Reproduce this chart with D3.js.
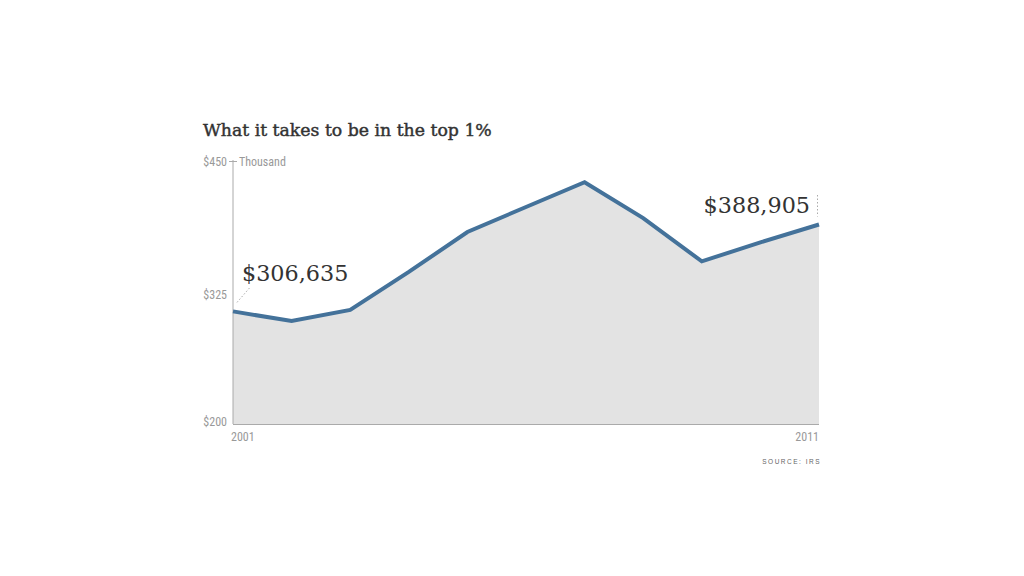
<!DOCTYPE html>
<html><head><meta charset="utf-8">
<script src="https://cdn.jsdelivr.net/npm/d3@7"></script>
<style>
body{margin:0;background:#fff;}
svg{display:block;}
.ax{font-family:"Liberation Sans Narrow","Roboto Condensed","Liberation Sans",sans-serif;fill:#999;font-size:12px;}
.serif{font-family:"DejaVu Serif","Liberation Serif",serif;fill:#333;}
</style></head><body>
<svg id="c" width="1024" height="576"></svg>
<script>
const years = [2001,2002,2003,2004,2005,2006,2007,2008,2009,2010,2011];
const values = [306.635,297.5,308,344,381.8,405.5,429,395,354,372,388.905];
const yTicks = [200,325,450];
const xTickLabels = ["2001","2011"];
const title = "What it takes to be in the top 1%";
const annotations = ["$306,635","$388,905"];

const svg = d3.select("#c");
const x = d3.scaleLinear().domain([2001,2011]).range([233,819]);
const y = d3.scaleLinear().domain([200,450]).range([424,160]);

svg.append("text").attr("class","serif").attr("x",203).attr("y",136)
  .attr("font-size",17.3).attr("stroke","#333").attr("stroke-width",0.45).text(title);

const area = d3.area().x((d,i)=>x(years[i])).y0(y(200)).y1(d=>y(d));
svg.append("path").datum(values).attr("d",area).attr("fill","#e3e3e3");

// axes lines
svg.append("line").attr("x1",x(2001)).attr("x2",x(2001)).attr("y1",y(450)).attr("y2",y(200)).attr("stroke","#aaa").attr("stroke-width",1);
svg.append("line").attr("x1",x(2001)).attr("x2",x(2011)).attr("y1",y(200)+0.5).attr("y2",y(200)+0.5).attr("stroke","#aaa").attr("stroke-width",1);
svg.append("line").attr("x1",x(2001)-4).attr("x2",x(2001)+4).attr("y1",y(450)+1.5).attr("y2",y(450)+1.5).attr("stroke","#aaa");

const line = d3.line().x((d,i)=>x(years[i])).y(d=>y(d));
svg.append("path").datum(values).attr("d",line).attr("fill","none").attr("stroke","#44729a").attr("stroke-width",4).attr("stroke-linejoin","miter");

const yOff = {200:2, 325:7, 450:6};
svg.selectAll(".yt").data(yTicks).enter().append("text").attr("class","ax")
  .attr("x",227).attr("y",d=>y(d)+yOff[d]).attr("text-anchor","end").text(d=>"$"+d);
svg.append("text").attr("class","ax").attr("x",239).attr("y",y(450)+6).text("Thousand");

svg.append("text").attr("class","ax").attr("x",x(2001)-2).attr("y",441).text(xTickLabels[0]);
svg.append("text").attr("class","ax").attr("x",x(2011)).attr("y",441).attr("text-anchor","end").text(xTickLabels[1]);

svg.append("text").attr("x",821).attr("y",464).attr("text-anchor","end")
  .attr("font-family","Liberation Sans,sans-serif").attr("font-size",6.5).attr("letter-spacing",1.5).attr("fill","#666").text("SOURCE: IRS");

// annotations
svg.append("text").attr("class","serif").attr("x",242).attr("y",281).attr("font-size",22.3).text(annotations[0]);
svg.append("line").attr("x1",x(2001)+4).attr("y1",y(values[0])-9).attr("x2",x(2001)+17).attr("y2",y(values[0])-24)
  .attr("stroke","#aaa").attr("stroke-dasharray","1.5,2");
svg.append("text").attr("class","serif").attr("x",810).attr("y",213).attr("text-anchor","end").attr("font-size",22.3).text(annotations[1]);
svg.append("line").attr("x1",x(2011)-1.5).attr("x2",x(2011)-1.5).attr("y1",195).attr("y2",y(values[10])-8)
  .attr("stroke","#aaa").attr("stroke-dasharray","1.5,2");
</script></body></html>
